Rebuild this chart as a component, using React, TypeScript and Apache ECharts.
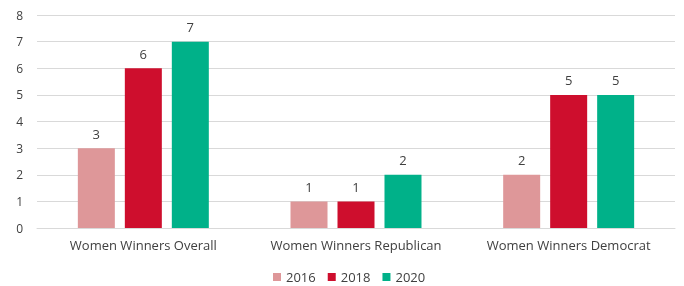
import React, { useEffect, useRef } from "react";
import * as echarts from "echarts";

const categories = ["Women Winners Overall", "Women Winners Republican", "Women Winners Democrat"];
const seriesNames = ["2016", "2018", "2020"];
const values2016 = [3, 1, 2];
const values2018 = [6, 1, 5];
const values2020 = [7, 2, 5];
const colors = ["#DE9799", "#CE0E2D", "#00B189"];

export default function App() {
  const ref = useRef<HTMLDivElement>(null);
  useEffect(() => {
    if (!ref.current) return;
    const chart = echarts.init(ref.current, null, { renderer: "svg" });
    const data = [values2016, values2018, values2020];
    chart.setOption({
      animation: false,
      textStyle: { fontFamily: "Open Sans" },
      grid: { left: 37, right: 9, top: 15, bottom: 58 },
      legend: {
        top: 269,
        left: 273,
        padding: 0,
        itemWidth: 8,
        itemHeight: 8,
        itemGap: 12,
        icon: "rect",
        textStyle: { color: "#404040", fontSize: 13, lineHeight: 16, fontFamily: "Open Sans" },
        data: seriesNames,
      },
      xAxis: {
        type: "category",
        data: categories,
        axisLine: { show: true, lineStyle: { color: "#D9D9D9" } },
        axisTick: { show: false },
        axisLabel: { color: "#404040", fontSize: 13, margin: 10, interval: 0, fontFamily: "Open Sans" },
      },
      yAxis: {
        type: "value",
        min: 0,
        max: 8,
        interval: 1,
        axisLine: { show: false },
        axisTick: { show: false },
        axisLabel: { color: "#404040", fontSize: 12, margin: 14, fontFamily: "Open Sans" },
        splitLine: { lineStyle: { color: "#D9D9D9" } },
      },
      series: seriesNames.map((name, i) => ({
        name,
        type: "bar",
        data: data[i],
        barWidth: 37,
        barGap: "27%",
        itemStyle: { color: colors[i] },
        label: {
          show: true,
          position: "top",
          distance: 8,
          color: "#404040",
          fontSize: 13,
          fontFamily: "Open Sans",
        },
      })),
    });
    return () => chart.dispose();
  }, []);
  return (
    <div
      ref={ref}
      style={{ position: "fixed", left: 0, top: 0, width: 684, height: 286 }}
    />
  );
}
